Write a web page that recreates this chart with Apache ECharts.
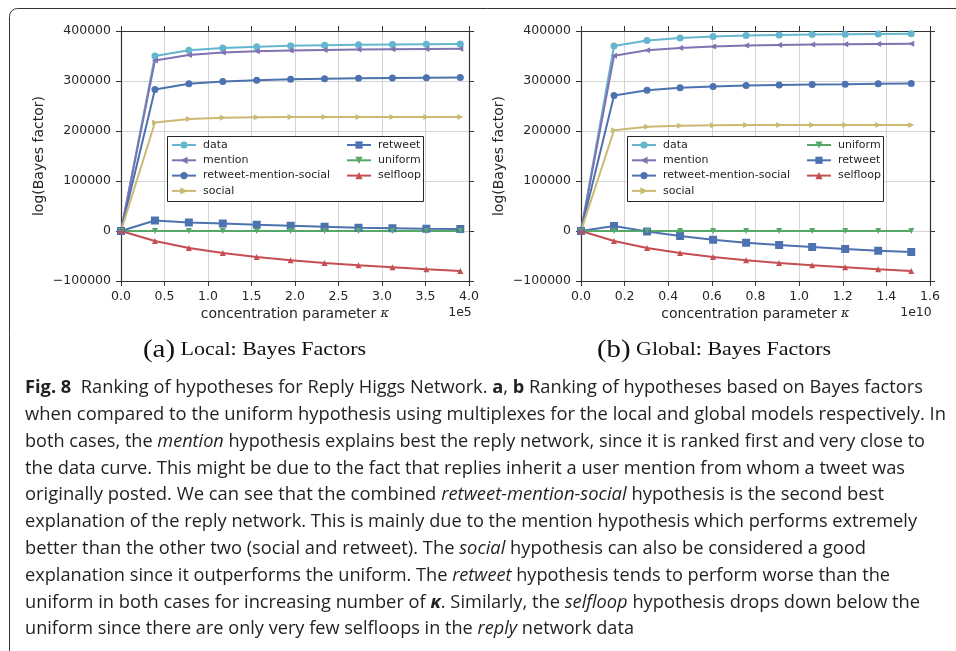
<!DOCTYPE html>
<html><head><meta charset="utf-8">
<script src="https://cdn.jsdelivr.net/npm/echarts@6/dist/echarts.min.js"></script>
<style>html,body{margin:0;padding:0;background:#fff}#c{width:956px;height:651px}</style>
</head><body><div id="c"></div>
<script>
// ---------------- data ----------------
const seriesNames = ['data', 'mention', 'retweet-mention-social', 'social', 'retweet', 'uniform', 'selfloop'];
const legendColA = ['data', 'mention', 'retweet-mention-social', 'social'];
const legendColB_local = ['retweet', 'uniform', 'selfloop'];
const legendColB_global = ['uniform', 'retweet', 'selfloop'];

const kappaLocal = [0, 39000, 78000, 117000, 156000, 195000, 234000, 273000, 312000, 351000, 390000];
const local_data = [0, 350000, 361500, 366000, 368500, 370500, 371500, 372500, 373000, 373500, 374000];
const local_mention = [0, 341000, 352000, 357000, 359500, 361000, 362000, 363000, 363500, 364000, 364500];
const local_rms = [0, 283000, 294500, 299000, 301500, 303500, 304500, 305500, 306000, 306500, 307000];
const local_social = [0, 217000, 224000, 226500, 227500, 228000, 228000, 228000, 228000, 228000, 228000];
const local_retweet = [0, 21000, 17000, 15000, 12500, 10500, 8500, 6500, 5500, 4500, 4000];
const local_uniform = [0, 0, 0, 0, 0, 0, 0, 0, 0, 0, 0];
const local_selfloop = [0, -20000, -34000, -44000, -52000, -58500, -64000, -68500, -72500, -76500, -80000];

const kappaGlobal = [0, 1.514e9, 3.028e9, 4.542e9, 6.056e9, 7.57e9, 9.084e9, 1.0598e10, 1.2112e10, 1.3626e10, 1.514e10];
const global_data = [0, 370000, 381000, 386000, 389000, 391000, 392000, 393000, 393500, 394000, 394500];
const global_mention = [0, 350500, 361500, 366000, 369000, 371000, 372000, 373000, 373500, 374000, 374500];
const global_rms = [0, 271000, 281500, 286500, 289000, 291000, 292000, 293000, 293500, 294500, 295000];
const global_social = [0, 201500, 208500, 210500, 211500, 212000, 212000, 212000, 212000, 212000, 212000];
const global_retweet = [0, 10000, -1000, -10000, -17500, -23500, -28000, -32000, -36000, -39500, -42000];
const global_uniform = [0, 0, 0, 0, 0, 0, 0, 0, 0, 0, 0];
const global_selfloop = [0, -20000, -34000, -44000, -52000, -58500, -64000, -68500, -72500, -76500, -80000];

const yTicks = [-100000, 0, 100000, 200000, 300000, 400000];
const xTicksLocal = ['0.0', '0.5', '1.0', '1.5', '2.0', '2.5', '3.0', '3.5', '4.0'];
const xTicksGlobal = ['0.0', '0.2', '0.4', '0.6', '0.8', '1.0', '1.2', '1.4', '1.6'];

const subCaptions = [
  [['p', '(a)'], ['s', ' Local: Bayes Factors']],
  [['p', '(b)'], ['s', ' Global: Bayes Factors']]
];
const captionLines = [
  [['b', 'Fig. 8'], ['n', '  Ranking of hypotheses for Reply Higgs Network. '], ['b', 'a'], ['n', ', '], ['b', 'b'], ['n', ' Ranking of hypotheses based on Bayes factors']],
  [['n', 'when compared to the uniform hypothesis using multiplexes for the local and global models respectively. In']],
  [['n', 'both cases, the '], ['i', 'mention'], ['n', ' hypothesis explains best the reply network, since it is ranked first and very close to']],
  [['n', 'the data curve. This might be due to the fact that replies inherit a user mention from whom a tweet was']],
  [['n', 'originally posted. We can see that the combined '], ['i', 'retweet-mention-social'], ['n', ' hypothesis is the second best']],
  [['n', 'explanation of the reply network. This is mainly due to the mention hypothesis which performs extremely']],
  [['n', 'better than the other two (social and retweet). The '], ['i', 'social'], ['n', ' hypothesis can also be considered a good']],
  [['n', 'explanation since it outperforms the uniform. The '], ['i', 'retweet'], ['n', ' hypothesis tends to perform worse than the']],
  [['n', 'uniform in both cases for increasing number of '], ['bi', 'κ'], ['n', '. Similarly, the '], ['i', 'selfloop'], ['n', ' hypothesis drops down below the']],
  [['n', 'uniform since there are only very few selfloops in the '], ['i', 'reply'], ['n', ' network data']]
];

// ---------------- styling ----------------
const colors = {
  'data': '#64B5CD', 'mention': '#8172B2', 'retweet-mention-social': '#4C72B0',
  'social': '#CCB974', 'retweet': '#4C72B0', 'uniform': '#55A868', 'selfloop': '#C44E52'
};
const symbols = {
  'data': ['circle', 0, 7], 'mention': ['triangle', 90, 6], 'retweet-mention-social': ['circle', 0, 7],
  'social': ['triangle', -90, 6], 'retweet': ['rect', 0, 8], 'uniform': ['triangle', 180, 6], 'selfloop': ['triangle', 0, 6]
};
const TXT = '#262626';
const AX = '#333333';
const tickFont = 'DejaVu Sans';

const localVals = [local_data, local_mention, local_rms, local_social, local_retweet, local_uniform, local_selfloop];
const globalVals = [global_data, global_mention, global_rms, global_social, global_retweet, global_uniform, global_selfloop];

const grids = [
  { left: 121, top: 31, width: 348, height: 250 },
  { left: 581, top: 31, width: 349, height: 250 }
];

function yFmt(v) { return v < 0 ? '\u2212' + Math.abs(v) : String(v); }

function xAxisPair(gi, max, interval, ticks) {
  const base = {
    gridIndex: gi, type: 'value', min: 0, max: max, interval: interval,
    axisLine: { show: true, onZero: false, lineStyle: { color: AX, width: 1.2 } },
    axisTick: { show: true, inside: false, length: 5, lineStyle: { color: AX, width: 1 } }
  };
  return [
    Object.assign({}, base, {
      position: 'bottom',
      axisLabel: { margin: 9, color: TXT, fontFamily: tickFont, fontSize: 12.5,
        formatter: (v) => ticks[Math.round(v / interval)] },
      splitLine: { show: true, lineStyle: { color: '#d4d4d4', width: 1 } },
      name: 'concentration parameter {k|κ}', nameLocation: 'middle', nameGap: 26,
      nameTextStyle: { color: TXT, fontFamily: tickFont, fontSize: 14,
        rich: { k: { color: TXT, fontFamily: 'DejaVu Serif', fontStyle: 'italic', fontSize: 13 } } }
    }),
    Object.assign({}, base, { position: 'top', axisLabel: { show: false }, splitLine: { show: false } })
  ];
}
function yAxisPair(gi) {
  const base = {
    gridIndex: gi, type: 'value', min: -100000, max: 400000, interval: 100000,
    axisLine: { show: true, onZero: false, lineStyle: { color: AX, width: 1.2 } },
    axisTick: { show: true, inside: false, length: 5, lineStyle: { color: AX, width: 1 } }
  };
  return [
    Object.assign({}, base, {
      position: 'left',
      axisLabel: { margin: 10, color: TXT, fontFamily: tickFont, fontSize: 12.5, formatter: yFmt },
      splitLine: { show: true, lineStyle: { color: '#d4d4d4', width: 1 } },
      name: 'log(Bayes factor)', nameLocation: 'middle', nameGap: 75, nameRotate: 90,
      nameTextStyle: { color: TXT, fontFamily: tickFont, fontSize: 14 }
    }),
    Object.assign({}, base, { position: 'right', axisLabel: { show: false }, splitLine: { show: false } })
  ];
}

const xAxes = [...xAxisPair(0, 400000, 50000, xTicksLocal), ...xAxisPair(1, 1.6e10, 2e9, xTicksGlobal)];
const yAxes = [...yAxisPair(0), ...yAxisPair(1)];

const series = [];
function addSeries(kappa, vals, xi, yi) {
  seriesNames.forEach((name, k) => {
    const s = symbols[name];
    series.push({
      type: 'line', name: name, xAxisIndex: xi, yAxisIndex: yi,
      data: kappa.map((x, i) => [x, vals[k][i]]),
      symbol: s[0], symbolRotate: s[1], symbolSize: s[2], showSymbol: true,
      lineStyle: { color: colors[name], width: 2 },
      itemStyle: { color: colors[name], borderWidth: 0 },
      emphasis: { disabled: true }, animation: false, z: 2
    });
  });
}
addSeries(kappaLocal, localVals, 0, 0);
addSeries(kappaGlobal, globalVals, 2, 2);

function legendCol(items, left, top) {
  return {
    data: items, orient: 'vertical', left: left, top: top, padding: 0,
    itemWidth: 24, itemHeight: 9, itemGap: 1.3, selectedMode: false, z: 6,
    textStyle: { color: TXT, fontFamily: tickFont, fontSize: 11, lineHeight: 14, padding: [0, 0, 0, 2] }
  };
}
const legends = [
  legendCol(legendColA, 171, 138), legendCol(legendColB_local, 346, 138),
  legendCol(legendColA, 631, 138), legendCol(legendColB_global, 806, 138)
];

// ------------- text fitting helper -------------
const cv = document.createElement('canvas').getContext('2d');
function fitText(segs, styles, x, y, targetW) {
  let w = 0, text = '';
  segs.forEach(([k, t]) => {
    const st = styles[k];
    cv.font = `${st.fontStyle || 'normal'} ${st.fontWeight || 'normal'} ${st.fontSize}px ${st.fontFamily}`;
    w += cv.measureText(t).width;
    text += `{${k}|${t}}`;
  });
  return { type: 'text', x: x, y: y, scaleX: targetW / w, silent: true, z: 10,
    style: { text: text, rich: styles, verticalAlign: 'middle', align: 'left' } };
}
const capFam = 'Open Sans';
const capSize = 18;
const capStyles = {
  n: { fontFamily: capFam, fontSize: capSize, fill: '#231f20' },
  i: { fontFamily: capFam, fontSize: capSize, fontStyle: 'italic', fill: '#231f20' },
  b: { fontFamily: capFam, fontSize: capSize, fontWeight: 'bold', fill: '#231f20' },
  bi: { fontFamily: capFam, fontSize: capSize, fontWeight: 'bold', fontStyle: 'italic', fill: '#231f20' }
};
const subStyles = {
  p: { fontFamily: 'Liberation Serif', fontSize: 25, fill: '#111' },
  s: { fontFamily: 'Liberation Serif', fontSize: 19, fill: '#111' }
};
const capEnds = [923, 946, 925, 905, 884, 917, 866, 890, 920, 634];
const capX = 25, capY0 = 388, capDY = 26.8;

const graphics = [
  { type: 'rect', shape: { x: 9.5, y: 8.5, width: 1000, height: 700, r: 8 }, silent: true,
    style: { fill: 'none', stroke: '#333', lineWidth: 1 }, z: 0 },
  { type: 'rect', shape: { x: 167.5, y: 136.5, width: 256, height: 65 }, silent: true,
    style: { fill: '#fff', stroke: '#262626', lineWidth: 1 }, z: 4 },
  { type: 'rect', shape: { x: 627.5, y: 136.5, width: 256, height: 65 }, silent: true,
    style: { fill: '#fff', stroke: '#262626', lineWidth: 1 }, z: 4 },
  { type: 'text', x: 460, y: 313, silent: true, z: 10,
    style: { text: '1e5', fill: TXT, fontFamily: tickFont, fontSize: 12.5, align: 'center', verticalAlign: 'middle' } },
  { type: 'text', x: 916, y: 313, silent: true, z: 10,
    style: { text: '1e10', fill: TXT, fontFamily: tickFont, fontSize: 12.5, align: 'center', verticalAlign: 'middle' } },
  fitText(subCaptions[0], subStyles, 143, 350, 223),
  fitText(subCaptions[1], subStyles, 597, 350, 234)
];
captionLines.forEach((segs, i) => {
  graphics.push(fitText(segs, capStyles, capX, capY0 + i * capDY, capEnds[i] - capX));
});

const chart = echarts.init(document.getElementById('c'), null, { renderer: 'canvas' });
chart.setOption({
  backgroundColor: '#fff',
  animation: false,
  grid: grids.map(g => Object.assign({ show: false }, g)),
  xAxis: xAxes,
  yAxis: yAxes,
  legend: legends,
  series: series,
  graphic: graphics
});
</script>
</body></html>
